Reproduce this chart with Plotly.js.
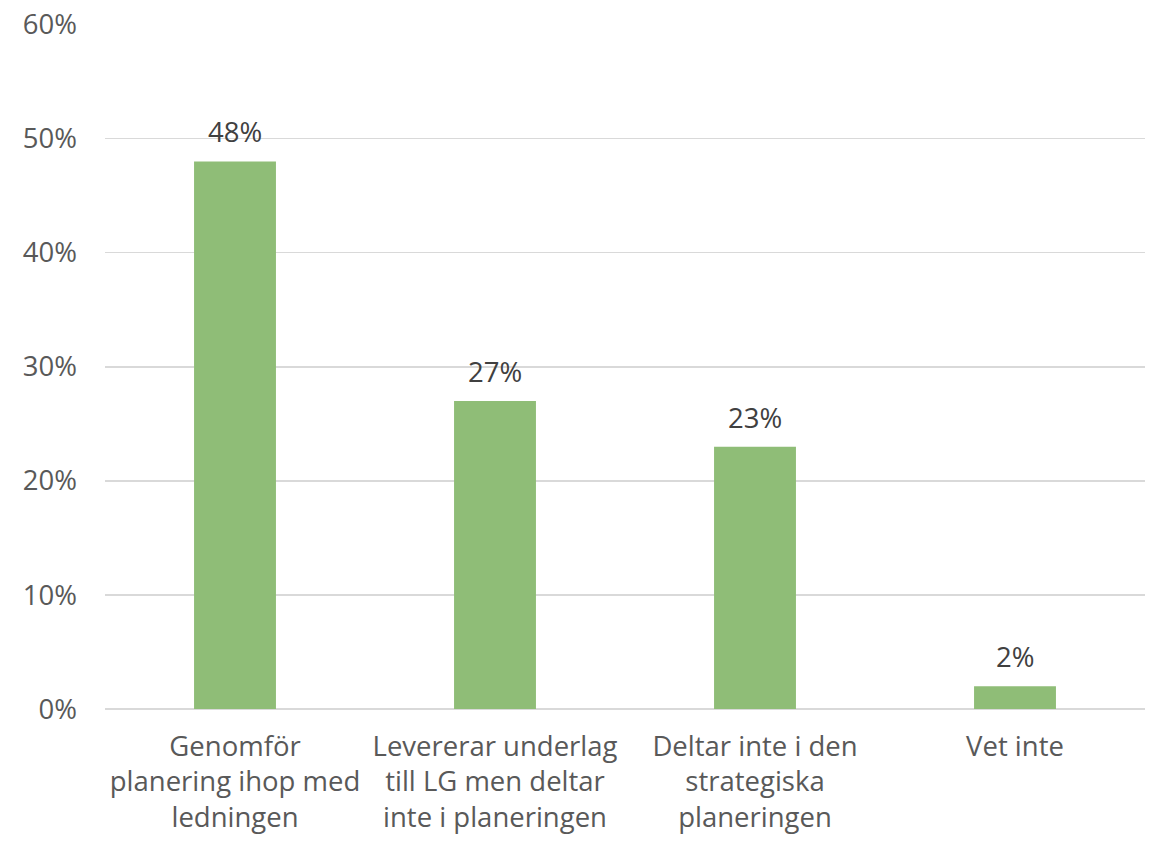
<!DOCTYPE html>
<html>
<head>
<meta charset="utf-8">
<script src="https://cdn.plot.ly/plotly-3.0.1.min.js"></script>
<style>
  html, body { margin: 0; padding: 0; background: #fff; }
  #chart { width: 1155px; height: 842px; }
</style>
</head>
<body>
<div id="chart"></div>
<script>
const kategorier = [
  'Genomför<br>planering ihop med<br>ledningen',
  'Levererar underlag<br>till LG men deltar<br>inte i planeringen',
  'Deltar inte i den<br>strategiska<br>planeringen',
  'Vet inte'
];
const andelar = [0.48, 0.27, 0.23, 0.02];
const etiketter = ['48%', '27%', '23%', '2%'];

const data = [{
  x: kategorier,
  y: andelar,
  type: 'bar',
  marker: { color: '#8fbd77' },
  width: 0.315,
  hoverinfo: 'none'
}];

const annotations = kategorier.map((k, i) => ({
  x: k,
  y: andelar[i],
  text: etiketter[i],
  showarrow: false,
  xanchor: 'center',
  yanchor: 'bottom',
  yshift: 9,
  font: { size: 27.5, color: '#404040' }
}));

const layout = {
  width: 1155,
  height: 842,
  margin: { l: 105, r: 10, t: 24, b: 133 },
  paper_bgcolor: '#ffffff',
  plot_bgcolor: '#ffffff',
  font: { family: 'Open Sans, sans-serif', size: 27.5, color: '#595959' },
  showlegend: false,
  annotations: annotations,
  xaxis: {
    showgrid: false,
    showline: false,
    ticks: '',
    tickfont: { size: 27.5, color: '#595959' },
    ticklabelstandoff: 18
  },
  yaxis: {
    range: [0, 0.6005],
    dtick: 0.1,
    tickformat: '.0%',
    showgrid: true,
    gridcolor: '#d9d9d9',
    gridwidth: 1.5,
    zeroline: true,
    zerolinecolor: '#d9d9d9',
    zerolinewidth: 1.5,
    showline: false,
    ticks: '',
    tickfont: { size: 27.5, color: '#595959' },
    ticklabelstandoff: 27
  }
};

Plotly.newPlot('chart', data, layout, { displayModeBar: false, staticPlot: true });
</script>
</body>
</html>
